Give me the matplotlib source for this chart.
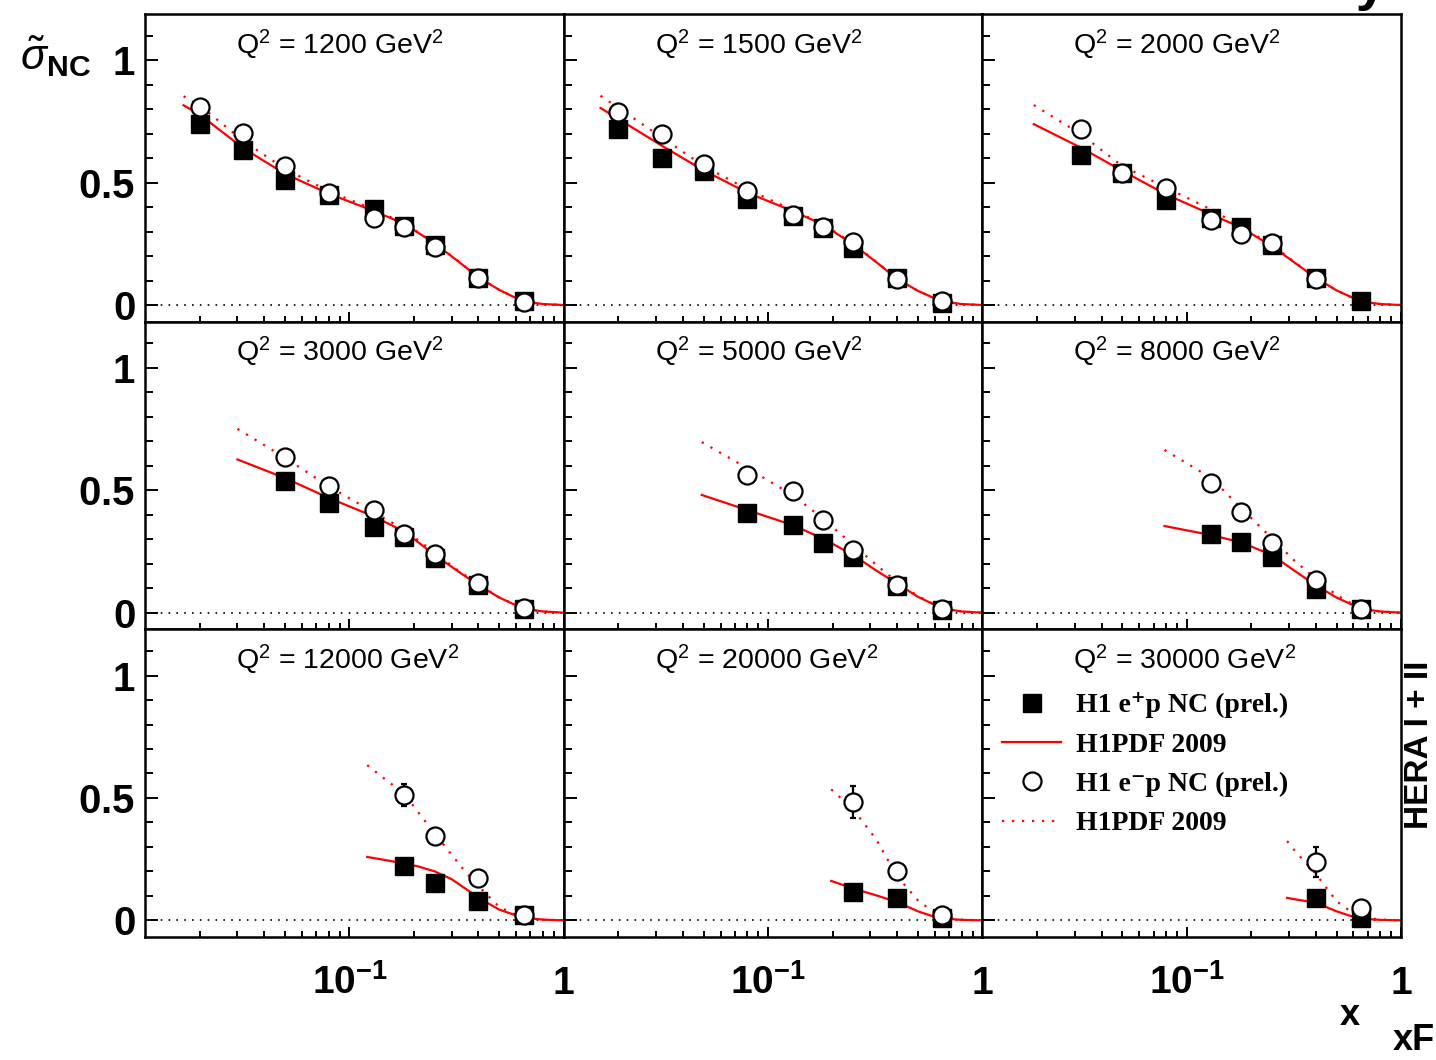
import numpy as np
import matplotlib.pyplot as plt
from matplotlib.lines import Line2D
from matplotlib.ticker import MultipleLocator, FixedLocator, LogLocator, NullFormatter, FuncFormatter

plt.rcParams['font.family'] = ['Liberation Sans', 'DejaVu Sans']
plt.rcParams['mathtext.fontset'] = 'custom'
plt.rcParams['mathtext.rm'] = 'Liberation Sans'
plt.rcParams['mathtext.it'] = 'Liberation Sans:italic'
plt.rcParams['mathtext.bf'] = 'Liberation Sans:bold'

nan = np.nan

# Q2 bins (GeV^2) and x bins
q2 = [1200, 1500, 2000, 3000, 5000, 8000, 12000, 20000, 30000]
x_bins = [0.02, 0.032, 0.05, 0.08, 0.13, 0.18, 0.25, 0.40, 0.65]

# H1 e+p NC (prel.)
sig_pos = [
    [0.739, 0.635, 0.512, 0.448, 0.393, 0.321, 0.247, 0.111, 0.015],
    [0.719, 0.600, 0.548, 0.434, 0.363, 0.316, 0.234, 0.111, 0.010],
    [nan, 0.612, 0.538, 0.429, 0.354, 0.320, 0.247, 0.111, 0.018],
    [nan, nan, 0.540, 0.448, 0.352, 0.311, 0.222, 0.113, 0.015],
    [nan, nan, nan, 0.406, 0.358, 0.286, 0.228, 0.108, 0.010],
    [nan, nan, nan, nan, 0.320, 0.290, 0.228, 0.098, 0.014],
    [nan, nan, nan, nan, nan, 0.221, 0.154, 0.079, 0.020],
    [nan, nan, nan, nan, nan, nan, 0.116, 0.091, 0.011],
    [nan, nan, nan, nan, nan, nan, nan, 0.092, 0.008],
]

# H1 e-p NC (prel.)
sig_neg = [
    [0.807, 0.703, 0.568, 0.459, 0.357, 0.320, 0.239, 0.110, 0.011],
    [0.790, 0.698, 0.578, 0.466, 0.367, 0.318, 0.257, 0.108, 0.018],
    [nan, 0.719, 0.541, 0.479, 0.346, 0.291, 0.255, 0.107, nan],
    [nan, nan, 0.635, 0.518, 0.418, 0.322, 0.240, 0.120, 0.020],
    [nan, nan, nan, 0.563, 0.499, 0.378, 0.258, 0.112, 0.014],
    [nan, nan, nan, nan, 0.529, 0.410, 0.283, 0.135, 0.014],
    [nan, nan, nan, nan, nan, 0.513, 0.344, 0.173, 0.020],
    [nan, nan, nan, nan, nan, nan, 0.484, 0.202, 0.020],
    [nan, nan, nan, nan, nan, nan, nan, 0.238, 0.050],
]

# errores visibles (solo e-p a alto Q2)
err_neg = [
    [0] * 9,
    [0] * 9,
    [0] * 9,
    [0] * 9,
    [0] * 9,
    [0] * 9,
    [0, 0, 0, 0, 0, 0.045, 0.015, 0.012, 0.005],
    [0, 0, 0, 0, 0, 0, 0.065, 0.02, 0.008],
    [0, 0, 0, 0, 0, 0, 0, 0.06, 0.015],
]

# H1PDF 2009 curves
curve_x = [
    [0.0168, 0.02, 0.032, 0.05, 0.08, 0.13, 0.18, 0.25, 0.32, 0.40, 0.50, 0.60, 0.70, 0.80, 1.0],
    [0.0165, 0.02, 0.032, 0.05, 0.08, 0.13, 0.18, 0.25, 0.32, 0.40, 0.50, 0.60, 0.70, 0.80, 1.0],
    [0.0193, 0.032, 0.05, 0.08, 0.13, 0.18, 0.25, 0.32, 0.40, 0.50, 0.60, 0.70, 0.80, 1.0],
    [0.030, 0.05, 0.08, 0.13, 0.18, 0.25, 0.32, 0.40, 0.50, 0.60, 0.70, 0.80, 1.0],
    [0.049, 0.08, 0.13, 0.18, 0.25, 0.32, 0.40, 0.50, 0.60, 0.70, 0.80, 1.0],
    [0.0787, 0.13, 0.18, 0.25, 0.32, 0.40, 0.50, 0.60, 0.70, 0.80, 1.0],
    [0.121, 0.15, 0.18, 0.21, 0.25, 0.30, 0.35, 0.40, 0.50, 0.60, 0.70, 0.80, 1.0],
    [0.197, 0.25, 0.32, 0.40, 0.50, 0.60, 0.70, 0.80, 1.0],
    [0.294, 0.32, 0.40, 0.50, 0.60, 0.70, 0.80, 1.0],
]
curve_pos = [
    [0.816, 0.778, 0.640, 0.536, 0.455, 0.384, 0.332, 0.252, 0.180, 0.113, 0.062, 0.028, 0.011, 0.004, 0.0],
    [0.805, 0.760, 0.650, 0.550, 0.459, 0.384, 0.329, 0.247, 0.175, 0.107, 0.058, 0.027, 0.011, 0.004, 0.0],
    [0.739, 0.643, 0.548, 0.452, 0.370, 0.316, 0.240, 0.172, 0.111, 0.060, 0.028, 0.011, 0.004, 0.0],
    [0.626, 0.550, 0.469, 0.393, 0.332, 0.236, 0.170, 0.113, 0.062, 0.030, 0.012, 0.005, 0.0],
    [0.481, 0.419, 0.358, 0.303, 0.235, 0.172, 0.119, 0.065, 0.032, 0.013, 0.005, 0.0],
    [0.354, 0.317, 0.287, 0.235, 0.170, 0.112, 0.062, 0.030, 0.012, 0.005, 0.0],
    [0.259, 0.245, 0.232, 0.220, 0.200, 0.168, 0.128, 0.092, 0.044, 0.020, 0.008, 0.003, 0.0],
    [0.161, 0.130, 0.102, 0.075, 0.037, 0.014, 0.006, 0.002, 0.0],
    [0.092, 0.086, 0.072, 0.037, 0.014, 0.005, 0.002, 0.0],
]
curve_neg = [
    [0.853, 0.815, 0.670, 0.556, 0.465, 0.390, 0.334, 0.253, 0.181, 0.114, 0.062, 0.028, 0.011, 0.004, 0.0],
    [0.855, 0.805, 0.684, 0.568, 0.473, 0.388, 0.331, 0.250, 0.177, 0.108, 0.058, 0.027, 0.011, 0.004, 0.0],
    [0.817, 0.698, 0.568, 0.480, 0.390, 0.320, 0.245, 0.174, 0.112, 0.060, 0.028, 0.011, 0.004, 0.0],
    [0.751, 0.633, 0.516, 0.410, 0.340, 0.245, 0.174, 0.115, 0.063, 0.030, 0.012, 0.005, 0.0],
    [0.697, 0.590, 0.481, 0.385, 0.276, 0.195, 0.126, 0.068, 0.033, 0.013, 0.005, 0.0],
    [0.665, 0.550, 0.426, 0.303, 0.210, 0.139, 0.072, 0.033, 0.013, 0.005, 0.0],
    [0.634, 0.570, 0.518, 0.440, 0.355, 0.268, 0.195, 0.140, 0.055, 0.022, 0.009, 0.003, 0.0],
    [0.535, 0.453, 0.330, 0.180, 0.082, 0.030, 0.010, 0.003, 0.0],
    [0.324, 0.283, 0.190, 0.078, 0.028, 0.010, 0.003, 0.0],
]

DOT_RED = (0, (1, 3.5))
DOT_BLK = (0, (1, 3.7))


def xlab(v, pos):
    if abs(v - 0.1) < 1e-9:
        return r'$\mathbf{10^{-1}}$'
    if abs(v - 1.0) < 1e-9:
        return r'$\mathbf{1}$'
    return ''


def ylab(v, pos):
    return r'$\mathbf{%g}$' % (round(v, 3) + 0.0)


fig, axes = plt.subplots(3, 3, sharex=True, sharey=True, figsize=(14.36, 10.6), dpi=100)
fig.subplots_adjust(left=145/1436, right=1401/1436, bottom=1 - 937/1060,
                    top=1 - 14/1060, wspace=0, hspace=0)

for i, ax in enumerate(axes.flat):
    ax.axhline(0, color='black', lw=1.2, ls=DOT_BLK, zorder=1)
    ax.plot(curve_x[i], curve_neg[i], color='red', lw=1.6, ls=DOT_RED, zorder=2)
    ax.plot(curve_x[i], curve_pos[i], color='red', lw=1.6, zorder=2)
    ax.plot(x_bins, sig_pos[i], 's', color='black', ms=12.5, zorder=3)
    ax.errorbar(x_bins, sig_neg[i], yerr=err_neg[i], fmt='o', mfc='white', mec='black',
                ecolor='black', ms=13, mew=1.6, elinewidth=1.6, capsize=2.5,
                capthick=1.6, zorder=4)
    ax.text(0.217, 0.87, 'Q$^{2}$ = %d GeV$^{2}$' % q2[i], transform=ax.transAxes,
            fontsize=20.5, va='baseline')

    ax.set_xscale('log')
    ax.set_xlim(0.0111, 1.0)
    ax.set_ylim(-0.068, 1.189)
    ax.yaxis.set_major_locator(MultipleLocator(0.5))
    ax.yaxis.set_minor_locator(MultipleLocator(0.1))
    ax.yaxis.set_major_formatter(FuncFormatter(ylab))
    ax.xaxis.set_major_locator(FixedLocator([0.1, 1.0]))
    ax.xaxis.set_minor_locator(LogLocator(base=10, subs=np.arange(2, 10)))
    ax.xaxis.set_minor_formatter(NullFormatter())
    ax.xaxis.set_major_formatter(FuncFormatter(xlab))

    ax.tick_params(which='both', direction='in', left=True, right=False,
                   top=False, bottom=True, width=1.4)
    ax.tick_params(axis='y', which='major', length=9, pad=7, labelsize=29)
    ax.tick_params(axis='y', which='minor', length=5.5)
    ax.tick_params(axis='x', which='major', length=7.5, pad=41, labelsize=28)
    ax.tick_params(axis='x', which='minor', length=4)
    for s in ax.spines.values():
        s.set_linewidth(1.8)

for ax in axes[2]:
    plt.setp(ax.get_xticklabels(), va='baseline')

# leyenda
handles = [
    Line2D([], [], color='black', marker='s', ls='none', ms=12.5),
    Line2D([], [], color='red', lw=1.6),
    Line2D([], [], marker='o', mfc='white', mec='black', ls='none', ms=13, mew=1.6),
    Line2D([], [], color='red', lw=1.6, ls=DOT_RED),
]
labels = ['H1 e\u207ap NC (prel.)', 'H1PDF 2009', 'H1 e\u207bp NC (prel.)', 'H1PDF 2009']
axes[2, 2].legend(handles, labels, loc='upper left', bbox_to_anchor=(0.048, 0.795),
                  frameon=False, borderpad=0, borderaxespad=0, handlelength=2.1,
                  handletextpad=0.55, labelspacing=0.5,
                  prop=dict(family=['Liberation Serif', 'DejaVu Serif'], weight='bold', size=20))

# textos de la figura
fig.text(20/1436, 1 - 70/1060, r'$\tilde{\sigma}_{\mathbf{NC}}$', fontsize=31, va='baseline')
fig.text(1340/1436, 1 - 1025/1060, 'x', fontsize=26, fontweight='bold', va='baseline')
fig.text(1393/1436, 1 - 1050/1060, 'xF', fontsize=26, fontweight='bold', va='baseline')
fig.text(1419/1436, 1 - 745/1060, 'HERA I + II', fontsize=24, fontweight='bold',
         rotation=90, ha='center', va='center')
# solo se ve la cola de la "y" en el borde superior
fig.text(1387/1436, 1 + 1/1060, 'H1 Preliminary', fontsize=40, fontweight='bold',
         ha='right', va='baseline')

fig.savefig('out.png', dpi=100)
